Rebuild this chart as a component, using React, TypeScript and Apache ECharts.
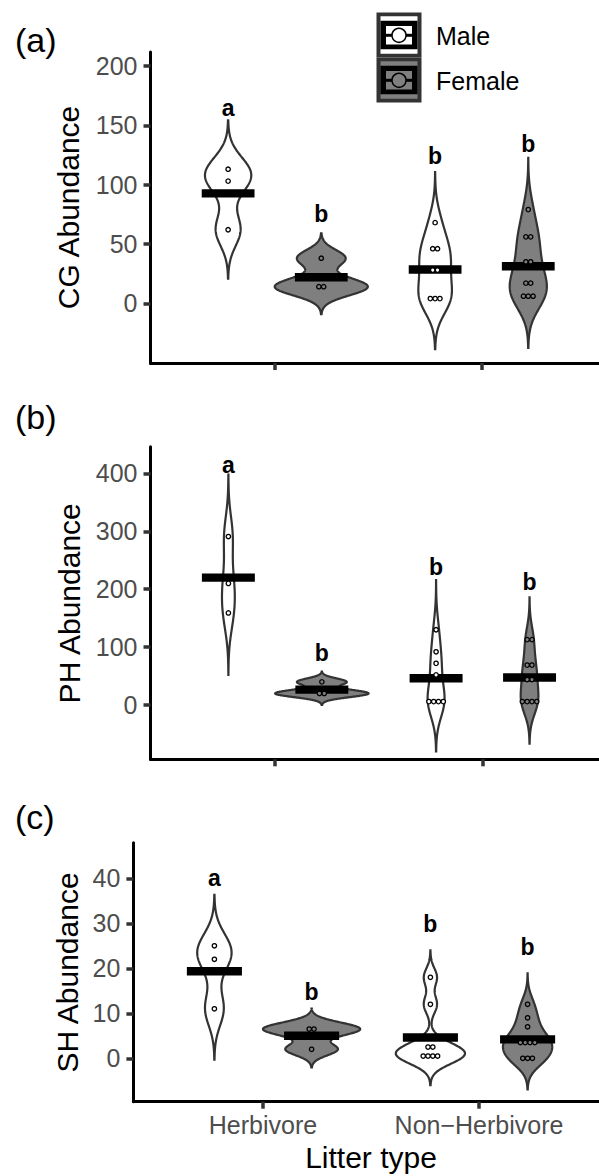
import React, { useEffect, useRef } from "react";
import * as echarts from "echarts";

// ---------------- data ----------------
const categories = ["Herbivore", "Non\u2212Herbivore"];
const sexes = ["Male", "Female"];
const panelTags = ["(a)", "(b)", "(c)"];
const yTitles = ["CG Abundance", "PH Abundance", "SH Abundance"];
const xTitle = "Litter type";
const letters = ["a", "b", "b", "b"];

// (a) CG abundance
const cgMaleHerb = [62, 103, 113];
const cgFemaleHerb = [12, 16, 38];
const cgMaleNonHerb = [4, 4, 4, 24, 32, 46, 46, 68];
const cgFemaleNonHerb = [6, 6, 6, 17, 17, 31, 39, 56, 56, 79];
const cgLetterY = [165, 75, 124, 134];
const cgTicks = [0, 50, 100, 150, 200];
const cgRange = [-50.3, 211.8];

// (b) PH abundance
const phMaleHerb = [159, 210, 291];
const phFemaleHerb = [18, 22, 40];
const phMaleNonHerb = [6, 6, 6, 6, 52, 72, 92, 130];
const phFemaleNonHerb = [6, 6, 6, 6, 44, 44, 69, 69, 113, 113];
const phLetterY = [414, 89, 239, 213];
const phTicks = [0, 100, 200, 300, 400];
const phRange = [-93.7, 446.1];

// (c) SH abundance
const shMaleHerb = [11, 22, 25];
const shFemaleHerb = [2, 6, 7];
const shMaleNonHerb = [0, 0, 1, 1, 2, 3, 12, 18];
const shFemaleNonHerb = [0, 0, 0, 3, 3, 4, 4, 7, 9, 12];
const shLetterY = [40, 14.7, 29.8, 24.8];
const shTicks = [0, 10, 20, 30, 40];
const shRange = [-9.64, 47.9];

// ---------------- helpers ----------------
const FONT = "'Liberation Sans', Arial, Helvetica, sans-serif";
const FILLS = ["#FFFFFF", "#7F7F7F"];
const OUTLINE = "#333333";
const DODGE = 0.225;
const W = 599;

function quantile7(s: number[], p: number) {
  const h = (s.length - 1) * p;
  const lo = Math.floor(h);
  const hi = Math.ceil(h);
  return s[lo] + (h - lo) * (s[hi] - s[lo]);
}
function bwNrd0(x: number[]) {
  const n = x.length;
  const mean = x.reduce((a, b) => a + b, 0) / n;
  const sd = Math.sqrt(x.reduce((a, b) => a + (b - mean) * (b - mean), 0) / (n - 1));
  const s = [...x].sort((a, b) => a - b);
  const iqr = quantile7(s, 0.75) - quantile7(s, 0.25);
  let lo = Math.min(sd, iqr / 1.34);
  if (!(lo > 0)) lo = sd || 1;
  return 0.9 * lo * Math.pow(n, -0.2);
}
function kde(x: number[]) {
  const bw = bwNrd0(x);
  const mn = Math.min(...x) - 3 * bw;
  const mx = Math.max(...x) + 3 * bw;
  const N = 200;
  const pts: [number, number][] = [];
  for (let i = 0; i < N; i++) {
    const y = mn + ((mx - mn) * i) / (N - 1);
    let d = 0;
    for (const xi of x) {
      const z = (y - xi) / bw;
      d += Math.exp(-0.5 * z * z) / Math.sqrt(2 * Math.PI);
    }
    pts.push([y, d / (x.length * bw)]);
  }
  return pts;
}
function dotBins(x: number[], bw: number) {
  const s = [...x].sort((a, b) => a - b);
  const bins: { c: number; n: number }[] = [];
  let start = s[0];
  let cur: number[] = [];
  for (const v of s) {
    if (cur.length && v > start + bw) {
      bins.push({ c: (cur[0] + cur[cur.length - 1]) / 2, n: cur.length });
      cur = [];
      start = v;
    }
    cur.push(v);
  }
  if (cur.length) bins.push({ c: (cur[0] + cur[cur.length - 1]) / 2, n: cur.length });
  return bins;
}

type Group = {
  x: number;
  fill: string;
  values: number[];
  mean: number;
  dens: [number, number][];
  bins: { c: number; n: number }[];
  letter: string;
  letterY: number;
};

function buildPanel(sets: number[][], letterY: number[], binw: number): Group[] {
  const groups: Group[] = sets.map((vals, i) => {
    const cat = Math.floor(i / 2);
    const sex = i % 2;
    return {
      x: cat + 1 + (sex === 0 ? -DODGE : DODGE),
      fill: FILLS[sex],
      values: vals,
      mean: vals.reduce((a, b) => a + b, 0) / vals.length,
      dens: kde(vals),
      bins: dotBins(vals, binw),
      letter: letters[i],
      letterY: letterY[i],
    };
  });
  const maxD = Math.max(...groups.map((g) => Math.max(...g.dens.map((d) => d[1]))));
  groups.forEach((g) => {
    g.dens = g.dens.map(([y, d]) => [y, (d / maxD) * DODGE]);
  });
  return groups;
}

const panels = [
  { groups: buildPanel([cgMaleHerb, cgFemaleHerb, cgMaleNonHerb, cgFemaleNonHerb], cgLetterY, 8), ticks: cgTicks, range: cgRange },
  { groups: buildPanel([phMaleHerb, phFemaleHerb, phMaleNonHerb, phFemaleNonHerb], phLetterY, 16), ticks: phTicks, range: phRange },
  { groups: buildPanel([shMaleHerb, shFemaleHerb, shMaleNonHerb, shFemaleNonHerb], shLetterY, 1.9), ticks: shTicks, range: shRange },
];

// plot boxes: left edge, top, height, pixel width of one category step
const boxes = [
  { left: 150.5, top: 52, height: 311, step: 207 },
  { left: 150.5, top: 446.7, height: 312.6, step: 207.7 },
  { left: 133.4, top: 842.7, height: 259, step: 216 },
];

function legendKey(y0: number, fill: string) {
  const x0 = 376.5;
  const w = 45;
  return [
    { type: "rect", shape: { x: x0, y: y0, width: w, height: 45 }, style: { fill: "#333333" } },
    { type: "rect", shape: { x: x0 + 4, y: y0 + 3.8, width: w - 8, height: 37.4 }, style: { fill } },
    { type: "rect", shape: { x: x0 + 4, y: y0 + 8.3, width: w - 8, height: 28.4 }, style: { fill: "#000000" } },
    { type: "rect", shape: { x: x0 + 9.5, y: y0 + 13.5, width: w - 19, height: 18.5 }, style: { fill } },
    { type: "rect", shape: { x: x0 + 9.5, y: y0 + 21.3, width: w - 19, height: 3 }, style: { fill: "#000000" } },
    { type: "circle", shape: { cx: x0 + w / 2, cy: y0 + 22.8, r: 7 }, style: { fill, stroke: "#000000", lineWidth: 1.5 } },
  ];
}

function txt(text: string, x: number, y: number, size: number, opts: any = {}) {
  return {
    type: "text",
    x,
    y,
    rotation: opts.rotation || 0,
    style: {
      text,
      x: 0,
      y: 0,
      fill: opts.color || "#000000",
      font: `${opts.weight || "normal"} ${size}px ${FONT}`,
      fontSize: size,
      fontFamily: FONT,
      align: opts.align || "center",
      textAlign: opts.align || "center",
      verticalAlign: "middle",
      textVerticalAlign: "middle",
    },
  };
}

export default function App() {
  const ref = useRef<HTMLDivElement>(null);
  useEffect(() => {
    if (!ref.current) return;
    const chart = echarts.init(ref.current, undefined, { renderer: "svg" });

    const grids = boxes.map((b) => ({
      left: b.left,
      top: b.top,
      width: W - b.left,
      height: b.height,
      containLabel: false,
    }));

    const xAxes = boxes.map((b, p) => ({
      type: "value",
      gridIndex: p,
      min: 0.4,
      max: 0.4 + (W - b.left) / b.step,
      splitLine: { show: false },
      axisLine: { show: true, onZero: false, lineStyle: { color: "#000000", width: 3 } },
      axisTick: { show: true, customValues: [1, 2], length: 7, lineStyle: { color: "#333333", width: 3.5 } },
      axisLabel: {
        show: p === 2,
        customValues: [1, 2],
        formatter: (v: number) => categories[Math.round(v) - 1] || "",
        color: "#4D4D4D",
        fontSize: 25,
        fontFamily: FONT,
        margin: 11,
      },
    }));
    const yAxes = panels.map((pn, p) => ({
      type: "value",
      gridIndex: p,
      min: pn.range[0],
      max: pn.range[1],
      splitLine: { show: false },
      axisLine: { show: true, onZero: false, lineStyle: { color: "#000000", width: 3 } },
      axisTick: { show: true, customValues: pn.ticks, length: 7, lineStyle: { color: "#333333", width: 3.5 } },
      axisLabel: {
        customValues: pn.ticks,
        formatter: (v: number) => String(v),
        color: "#4D4D4D",
        fontSize: 25,
        fontFamily: FONT,
        margin: 13,
      },
    }));

    const series = panels.map((pn, p) => ({
      type: "custom",
      name: sexes.join("/") + " " + p,
      xAxisIndex: p,
      yAxisIndex: p,
      silent: true,
      clip: false,
      data: pn.groups.map((g, gi) => [g.x, g.mean, gi]),
      encode: { x: 0, y: 1 },
      renderItem: (params: any, api: any) => {
        const g = pn.groups[api.value(2)];
        const right = g.dens.map(([y, w]) => api.coord([g.x + w, y]));
        const left = g.dens.map(([y, w]) => api.coord([g.x - w, y])).reverse();
        const children: any[] = [
          {
            type: "polygon",
            shape: { points: right.concat(left) },
            style: { fill: g.fill, stroke: OUTLINE, lineWidth: 2.2 },
          },
        ];
        const b0 = api.coord([g.x - 0.1275, g.mean]);
        const b1 = api.coord([g.x + 0.1275, g.mean]);
        children.push({
          type: "rect",
          shape: { x: b0[0], y: b0[1] - 4.2, width: b1[0] - b0[0], height: 8.4 },
          style: { fill: "#000000" },
        });
        const sp = 4.8;
        g.bins.forEach((bn) => {
          const c = api.coord([g.x, bn.c]);
          for (let i = 0; i < bn.n; i++) {
            children.push({
              type: "circle",
              shape: { cx: c[0] + (i - (bn.n - 1) / 2) * sp, cy: c[1], r: 2.2 },
              style: { fill: g.fill, stroke: "#000000", lineWidth: 1.3 },
            });
          }
        });
        const t = api.coord([g.x, g.letterY]);
        children.push({
          type: "text",
          x: t[0],
          y: t[1],
          style: {
            text: g.letter,
            x: 0,
            y: 0,
            fill: "#000000",
            font: `bold 23px ${FONT}`,
            fontSize: 23,
            fontWeight: "bold",
            fontFamily: FONT,
            align: "center",
            textAlign: "center",
            verticalAlign: "middle",
            textVerticalAlign: "middle",
          },
        });
        return { type: "group", children };
      },
    }));

    const graphic: any[] = [
      ...legendKey(12.5, FILLS[0]),
      ...legendKey(57.5, FILLS[1]),
      txt(sexes[0], 436, 35.5, 25, { align: "left" }),
      txt(sexes[1], 436, 80.5, 25, { align: "left" }),
      txt(panelTags[0], 15, 40, 34, { align: "left" }),
      txt(panelTags[1], 15, 417, 34, { align: "left" }),
      txt(panelTags[2], 15, 817, 34, { align: "left" }),
      txt(yTitles[0], 68.3, 207.5, 30, { rotation: Math.PI / 2 }),
      txt(yTitles[1], 69, 603.3, 30, { rotation: Math.PI / 2 }),
      txt(yTitles[2], 67.5, 972.5, 30, { rotation: Math.PI / 2 }),
      txt(xTitle, 371, 1157.4, 30),
    ];

    chart.setOption({
      animation: false,
      backgroundColor: "#FFFFFF",
      textStyle: { fontFamily: FONT },
      grid: grids,
      xAxis: xAxes,
      yAxis: yAxes,
      series,
      graphic,
    });
    return () => chart.dispose();
  }, []);
  return (
    <div
      ref={ref}
      style={{ position: "absolute", left: 0, top: 0, width: W, height: 1176, background: "#fff" }}
    />
  );
}
